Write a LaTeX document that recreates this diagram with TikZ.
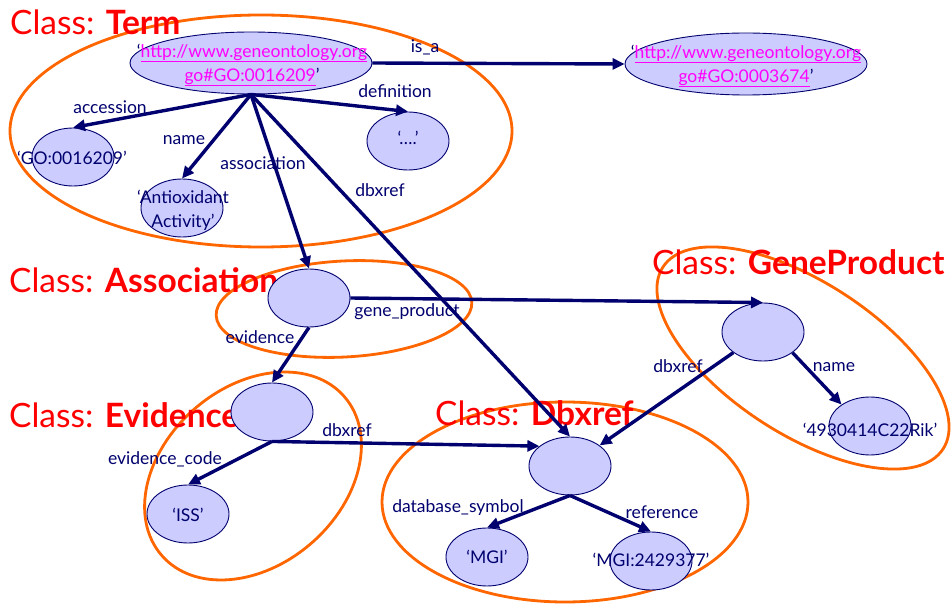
\documentclass[tikz,border=0pt]{standalone}
\usepackage{fontspec}
\setmainfont{Lato}
\usetikzlibrary{arrows.meta,shapes.geometric}

\definecolor{navy}{RGB}{0,0,110}
\definecolor{lav}{RGB}{204,204,255}
\definecolor{ring}{RGB}{255,102,0}
\definecolor{titlered}{RGB}{255,0,0}
\definecolor{urlpink}{RGB}{255,0,255}

\newcommand{\urltext}[1]{\textcolor{urlpink}{\underline{#1}}}

\tikzset{
  obj/.style={ellipse, draw=navy, fill=lav, line width=0.9pt, inner sep=0pt,
    minimum width=82pt, minimum height=58pt},
  urlobj/.style={obj, minimum width=242pt, minimum height=62pt},
  val/.style={text=navy, font=\fontsize{17.5}{24}\selectfont, inner sep=0pt, align=center},
  rel/.style={draw=navy, line width=3.4pt, -{Triangle[length=12pt,width=11pt]}},
  lbl/.style={text=navy, font=\fontsize{17.5}{20}\selectfont, inner sep=0pt},
  classring/.style={draw=ring, line width=2.8pt},
  classtitle/.style={text=titlered, font=\fontsize{33.5}{35}\selectfont, anchor=base west, inner sep=0pt},
}

\begin{document}
\begin{tikzpicture}[x=1pt, y=-1pt]
  \useasboundingbox (0,0) rectangle (951,604);

  % class rings
  \draw[classring] (261,131) ellipse [x radius=251, y radius=116];
  \draw[classring, rotate around={3:(344,309)}] (344,309) ellipse [x radius=128, y radius=48];
  \draw[classring, rotate around={41:(253,476)}] (253,476) ellipse [x radius=121, y radius=89];
  \draw[classring] (565,502) ellipse [x radius=183, y radius=100];
  \draw[classring, rotate around={-33:(803,358)}] (803,358) ellipse [x radius=167, y radius=76];

  % class titles
  \node[classtitle] (tTerm)  at (10,35)  {Class: \textbf{Term}};
  \node[classtitle] (tAssoc) at (9,292)  {Class: \textbf{Association}};
  \node[classtitle] (tEvid)  at (9,427)  {Class: \textbf{Evidence}};
  \node[classtitle] (tDbx)   at (435,425) {Class: \textbf{Dbxref}};
  \node[classtitle] (tGP)    at (652,275) {Class: \textbf{GeneProduct}};

  % objects
  \node[urlobj] (term)   at (251,63)  {};
  \node[urlobj] (parent) at (746,64)  {};
  \node[obj] (go)     at (73,157)  {};
  \node[obj] (anti)   at (182,208) {};
  \node[obj] (def)    at (408,141) {};
  \node[obj] (assoc)  at (309,298) {};
  \node[obj] (evid)   at (272,412) {};
  \node[obj] (iss)    at (188,514) {};
  \node[obj] (gp)     at (763,332) {};
  \node[obj] (rik)    at (870,426) {};
  \node[obj] (dbx)    at (570,466) {};
  \node[obj] (mgi)    at (487,557) {};
  \node[obj] (mgiref) at (651,561) {};

  % object values
  \node[val] (termtxt)   at (252,65) {‘\urltext{http://www.geneontology.org}\\\urltext{go\#GO:0016209}’};
  \node[val] (parenttxt) at (746,66) {‘\urltext{http://www.geneontology.org}\\\urltext{go\#GO:0003674}’};
  \node[val] (gotxt)   at (72,158)  {‘GO:0016209’};
  \node[val] (antitxt) at (183,210) {‘Antioxidant\\Activity’};
  \node[val] (deftxt)  at (408,138) {‘….’};
  \node[val] (isstxt)  at (188,515) {‘ISS’};
  \node[val] (riktxt)  at (870,430) {‘4930414C22Rik’};
  \node[val] (mgitxt)  at (487,557) {‘MGI’};
  \node[val] (reftxt)  at (651,560) {‘MGI:2429377’};

  % relations
  \draw[rel] (term.east) -- (parent.west);
  \draw[rel] (term.south) -- (go.north);
  \draw[rel] (term.south) -- (anti.north);
  \draw[rel] (term.south) -- (assoc.north);
  \draw[rel] (term.south) -- (dbx.north);
  \draw[rel] (term.south) -- (def.north);
  \draw[rel] (assoc.east) -- (gp.north);
  \draw[rel] (assoc.south) -- (evid.north);
  \draw[rel] (evid.south) -- (dbx.147);
  \draw[rel] (evid.south) -- (iss.north);
  \draw[rel] (gp) -- (dbx);
  \draw[rel] (gp.-35) -- (rik.143);
  \draw[rel] (dbx.south) -- (mgi.north);
  \draw[rel] (dbx.south) -- (mgiref.north);

  % relation labels
  \node[lbl] (lisa)   at (425,47)  {is\_a};
  \node[lbl] (lacc)   at (110,107) {accession};
  \node[lbl] (lname)  at (184,140) {name};
  \node[lbl] (lassoc) at (263,163) {association};
  \node[lbl] (ldbx)   at (380,190) {dbxref};
  \node[lbl] (ldef)   at (395,91)  {definition};
  \node[lbl] (lgp)    at (407,312) {gene\_product};
  \node[lbl] (levid)  at (260,337) {evidence};
  \node[lbl] (ledbx)  at (347,430) {dbxref};
  \node[lbl] (lcode)  at (165,459) {evidence\_code};
  \node[lbl] (lgpdbx) at (678,366) {dbxref};
  \node[lbl] (lgpnm)  at (834,367) {name};
  \node[lbl] (lsym)   at (458,508) {database\_symbol};
  \node[lbl] (lref)   at (662,512) {reference};
\end{tikzpicture}
\end{document}
